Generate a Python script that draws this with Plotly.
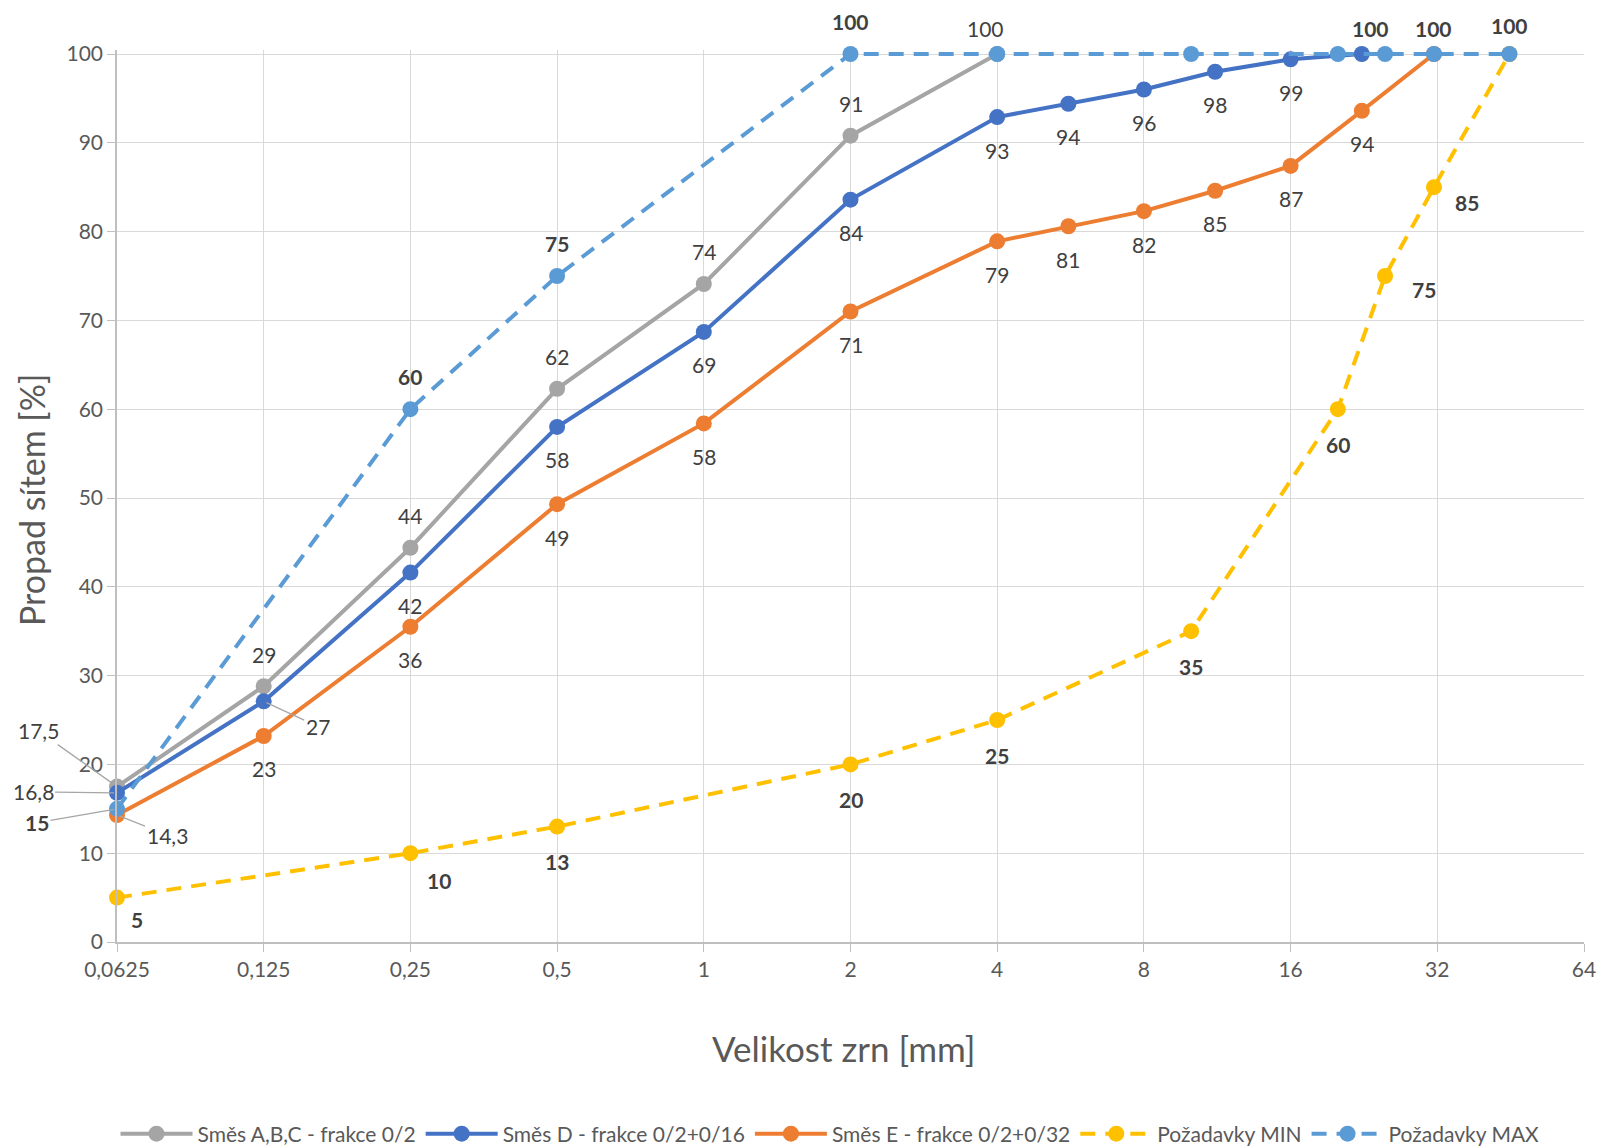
import math
import plotly.graph_objects as go

# ---------------- data ----------------
sieve_abc = [0.0625, 0.125, 0.25, 0.5, 1, 2, 4]
pass_abc = [17.5, 28.8, 44.4, 62.3, 74.1, 90.8, 100]

sieve_d = [0.0625, 0.125, 0.25, 0.5, 1, 2, 4, 5.6, 8, 11.2, 16, 22.4]
pass_d = [16.8, 27.1, 41.6, 58.0, 68.7, 83.6, 92.9, 94.4, 96.0, 98.0, 99.4, 100]

sieve_e = [0.0625, 0.125, 0.25, 0.5, 1, 2, 4, 5.6, 8, 11.2, 16, 22.4, 31.5]
pass_e = [14.3, 23.2, 35.5, 49.3, 58.4, 71.0, 78.9, 80.6, 82.3, 84.6, 87.4, 93.6, 100]

sieve_req = [0.0625, 0.25, 0.5, 2, 4, 10, 20, 25, 31.5, 45]
req_min = [5, 10, 13, 20, 25, 35, 60, 75, 85, 100]
req_max = [15, 60, 75, 100, 100, 100, 100, 100, 100, 100]

x_ticks = [0.0625, 0.125, 0.25, 0.5, 1, 2, 4, 8, 16, 32, 64]
x_ticktext = ["0,0625", "0,125", "0,25", "0,5", "1", "2", "4", "8", "16", "32", "64"]

names = ["Směs A,B,C - frakce 0/2", "Směs D - frakce 0/2+0/16", "Směs E - frakce 0/2+0/32",
         "Požadavky MIN", "Požadavky MAX"]
colors = ["#A5A5A5", "#4472C4", "#ED7D31", "#FFC000", "#5B9BD5"]

x_title = "Velikost zrn [mm]"
y_title = "Propad sítem [%]"

FONT = "Lato, 'Open Sans', sans-serif"
LABEL_COLOR = "#404040"
AXIS_COLOR = "#595959"
LBL_SIZE = 21

# layout geometry (pixels)
W, H = 1600, 1148
PL, PR, PT, PB = 117, 1584, 50, 942
Y_TOP = 100.45


def fmt(v, dec=0):
    if dec:
        return f"{v:.{dec}f}".replace(".", ",")
    return str(int(round(v)))


fig = go.Figure()

series = [
    (sieve_abc, pass_abc, names[0], colors[0], "solid"),
    (sieve_d, pass_d, names[1], colors[1], "solid"),
    (sieve_e, pass_e, names[2], colors[2], "solid"),
    (sieve_req, req_min, names[3], colors[3], "dash"),
    (sieve_req, req_max, names[4], colors[4], "dash"),
]
for xs, ys, nm, col, dash in series:
    fig.add_trace(go.Scatter(
        x=xs, y=ys, name=nm, mode="lines+markers",
        line=dict(color=col, width=4, dash=("15px,10px" if dash == "dash" else "solid")),
        marker=dict(color=col, size=16),
        cliponaxis=False,
    ))

annotations = []


def lab(x, y, text, xs=0, ys=0, bold=False):
    annotations.append(dict(
        x=math.log10(x), y=y, xref="x", yref="y", text=(f"<b>{text}</b>" if bold else text),
        showarrow=False, xshift=xs, yshift=ys,
        font=dict(family=FONT, size=LBL_SIZE, color=LABEL_COLOR),
        xanchor="center", yanchor="middle",
    ))


def leader(x, y, text, ax, ay, bold=False):
    annotations.append(dict(
        x=math.log10(x), y=y, xref="x", yref="y", text=(f"<b>{text}</b>" if bold else text),
        showarrow=True, arrowhead=0, arrowwidth=1.3, arrowcolor="#A6A6A6",
        ax=ax, ay=ay, standoff=3,
        font=dict(family=FONT, size=LBL_SIZE, color=LABEL_COLOR),
    ))


# Směs A,B,C  (labels above)
leader(sieve_abc[0], pass_abc[0], fmt(pass_abc[0], 1), -79, -56)
for i in range(1, len(sieve_abc)):
    if i == len(sieve_abc) - 1:
        lab(sieve_abc[i], pass_abc[i], fmt(pass_abc[i]), -12, 26)
    else:
        lab(sieve_abc[i], pass_abc[i], fmt(pass_abc[i]), 0, 32)

# Směs D (labels below)
leader(sieve_d[0], pass_d[0], fmt(pass_d[0], 1), -84, -1)
leader(sieve_d[1], pass_d[1], fmt(pass_d[1]), 54, 25)
for i in range(2, len(sieve_d) - 1):
    lab(sieve_d[i], pass_d[i], fmt(pass_d[i]), 0, -33)

# Směs E (labels below)
leader(sieve_e[0], pass_e[0], fmt(pass_e[0], 1), 50, 20)
for i in range(1, len(sieve_e) - 1):
    lab(sieve_e[i], pass_e[i], fmt(pass_e[i]), 0, -33)

# Požadavky MIN (bold, below / below-right)
min_shift = [(20, -22), (29, -27), (0, -35), (0, -35), (0, -35), (0, -35), (0, -35), (39, -13), (33, -15), None]
for xv, yv, sh in zip(sieve_req, req_min, min_shift):
    if sh is not None:
        lab(xv, yv, fmt(yv), sh[0], sh[1], bold=True)

# Požadavky MAX (bold, above)
leader(sieve_req[0], req_max[0], fmt(req_max[0]), -80, 14, bold=True)
max_shift = [None, (0, 33), (0, 33), (0, 33), None, None, None, (-15, 26), (0, 26), (0, 29)]
for xv, yv, sh in zip(sieve_req, req_max, max_shift):
    if sh is not None:
        lab(xv, yv, fmt(yv), sh[0], sh[1], bold=True)

# axis titles as paper annotations
ph = PB - PT
pw = PR - PL
annotations.append(dict(
    text=x_title, xref="paper", yref="paper",
    x=(844 - PL) / pw, y=(PB - 1048) / ph, xanchor="center", yanchor="middle",
    showarrow=False, font=dict(family=FONT, size=35, color=AXIS_COLOR),
))
annotations.append(dict(
    text=y_title, xref="paper", yref="paper", textangle=-90,
    x=(31 - PL) / pw, y=(PB - 500) / ph, xanchor="center", yanchor="middle",
    showarrow=False, font=dict(family=FONT, size=34, color=AXIS_COLOR),
))

fig.update_layout(
    width=W, height=H,
    margin=dict(l=PL, r=W - PR, t=PT, b=H - PB, autoexpand=False),
    paper_bgcolor="white", plot_bgcolor="white",
    font=dict(family=FONT, size=21, color=AXIS_COLOR),
    annotations=annotations,
    showlegend=True,
    legend=dict(
        orientation="h", x=(830 - PL) / pw, xanchor="center", y=(PB - 1134) / ph, yanchor="middle",
        font=dict(family=FONT, size=21, color=AXIS_COLOR),
        itemwidth=72, tracegroupgap=0,
    ),
    xaxis=dict(
        type="log",
        range=[math.log10(x_ticks[0]), math.log10(x_ticks[-1])],
        tickmode="array", tickvals=x_ticks, ticktext=x_ticktext,
        showgrid=True, gridcolor="#D9D9D9", gridwidth=1.3,
        showline=True, linecolor="#BFBFBF", linewidth=1.5,
        ticks="outside", ticklen=8, tickcolor="#BFBFBF",
        tickfont=dict(family=FONT, size=21, color=AXIS_COLOR),
        zeroline=False, automargin=False,
    ),
    yaxis=dict(
        range=[0, Y_TOP], tickmode="array", tickvals=list(range(0, 101, 10)),
        showgrid=True, gridcolor="#D9D9D9", gridwidth=1.3,
        showline=True, linecolor="#BFBFBF", linewidth=1.5,
        ticks="outside", ticklen=8, tickcolor="#BFBFBF",
        tickfont=dict(family=FONT, size=21, color=AXIS_COLOR),
        zeroline=False, automargin=False,
    ),
)

fig.write_html(
    "out.html",
    config={"displayModeBar": False},
    post_script="document.body.style.margin='0';document.body.style.overflow='hidden';",
)
